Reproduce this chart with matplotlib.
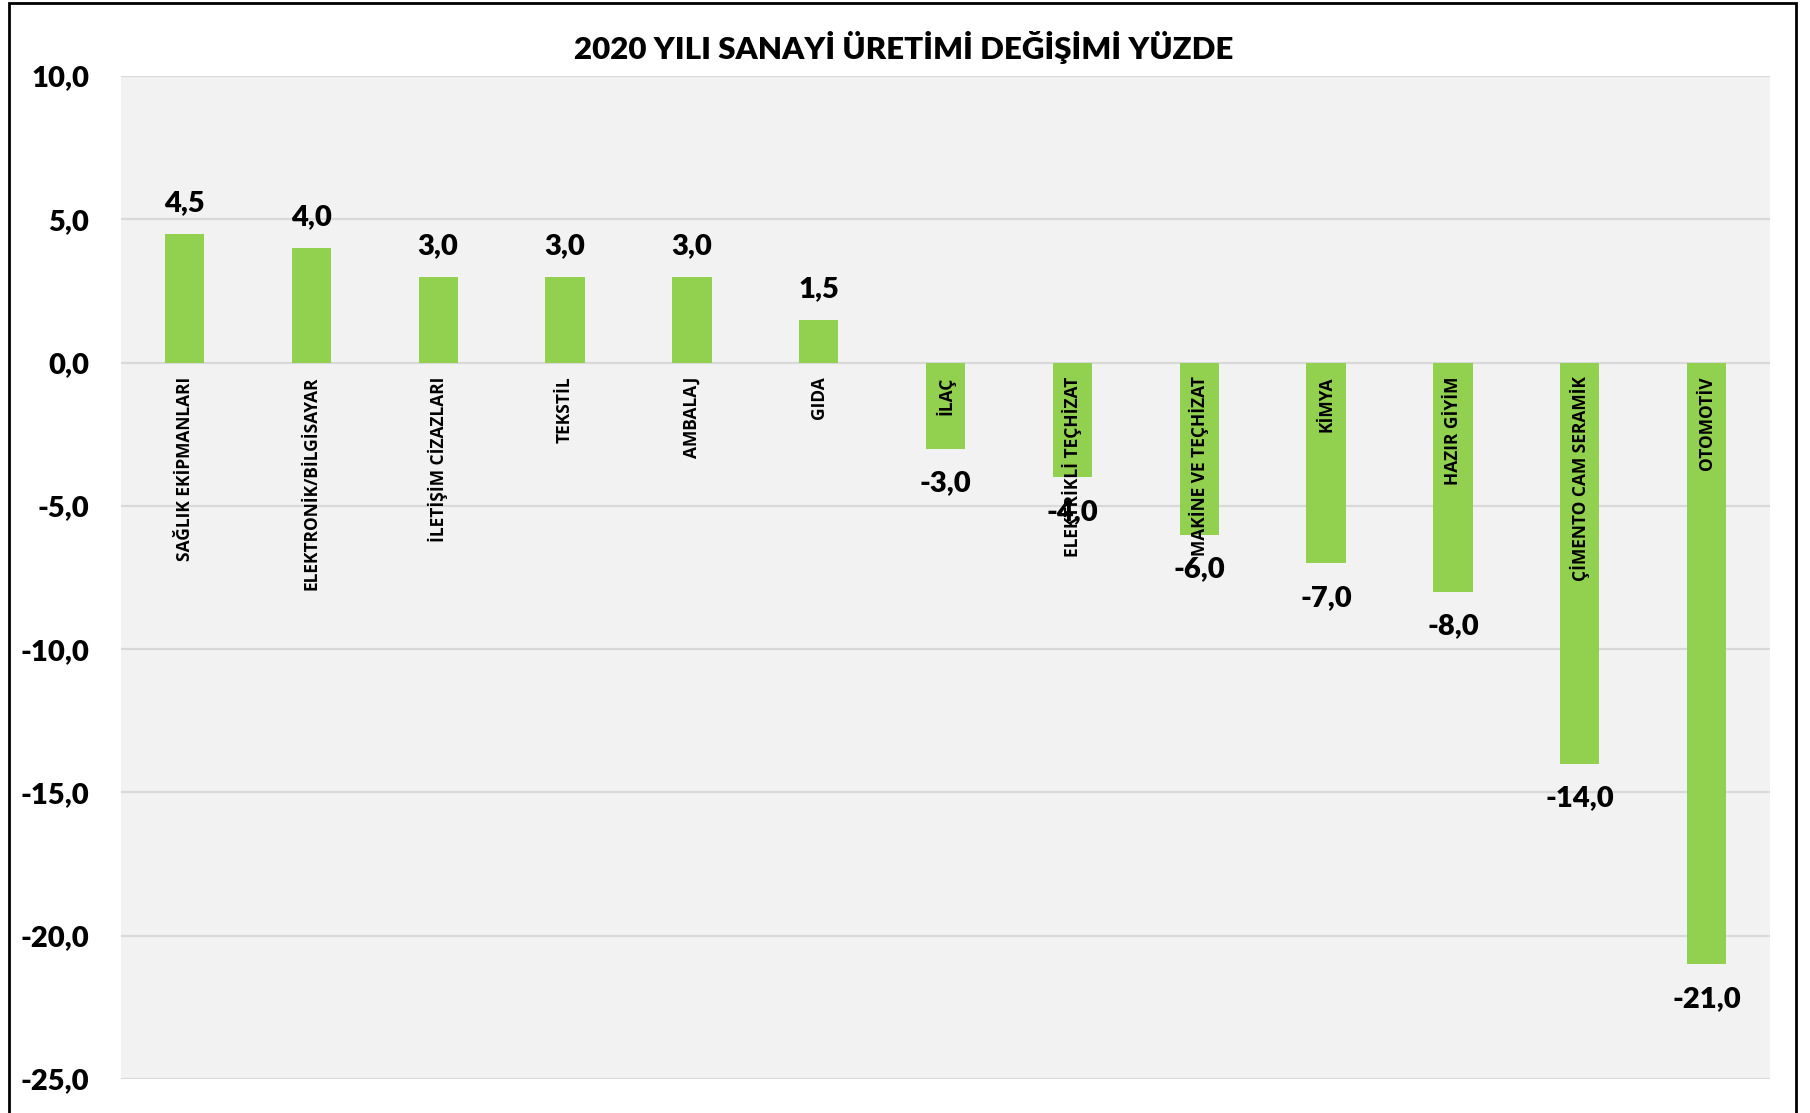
import matplotlib
matplotlib.use("Agg")
from matplotlib import pyplot as plt
from matplotlib.patches import Rectangle

categories = ["SAĞLIK EKİPMANLARI", "ELEKTRONİK/BİLGİSAYAR", "İLETİŞİM CİZAZLARI",
              "TEKSTİL", "AMBALAJ", "GIDA", "İLAÇ", "ELEKTRİKLİ TEÇHİZAT",
              "MAKİNE VE TEÇHİZAT", "KİMYA", "HAZIR GİYİM", "ÇİMENTO CAM SERAMİK",
              "OTOMOTİV"]
values = [4.5, 4.0, 3.0, 3.0, 3.0, 1.5, -3.0, -4.0, -6.0, -7.0, -8.0, -14.0, -21.0]
y_ticks = [10, 5, 0, -5, -10, -15, -20, -25]

num_font = "Lato"
cat_font = "Open Sans"

fig = plt.figure(figsize=(18.1, 11.13), dpi=100)
ax = fig.add_axes([0.0669, 0.0305, 0.9110, 0.9012])
ax.set_facecolor("#f2f2f2")

x = list(range(len(categories)))
ax.bar(x, values, width=0.31, color="#92d050", zorder=3)

ax.set_xlim(-0.5, len(categories) - 0.5)
ax.set_ylim(-25, 10)
ax.set_yticks(y_ticks)
ax.set_yticklabels([f"{v:.1f}".replace(".", ",") for v in y_ticks],
                   fontfamily=num_font, fontweight="heavy", fontsize=21)
ax.tick_params(axis="y", length=0, pad=23)
ax.set_xticks([])
ax.grid(axis="y", color="#d9d9d9", linewidth=1.6, zorder=1)
for s in ax.spines.values():
    s.set_visible(False)

# category names, rotated, just under the zero line
for xi, name in zip(x, categories):
    ax.annotate(name, (xi, 0), xytext=(0, -10), textcoords="offset points",
                rotation=90, ha="center", va="top", fontsize=12.5,
                fontfamily=cat_font, fontweight="bold", zorder=5)

# value labels
for xi, v in zip(x, values):
    off = 22 if v >= 0 else -25
    ax.annotate(f"{v:.1f}".replace(".", ","), (xi, v), xytext=(0, off),
                textcoords="offset points", ha="center", va="center",
                fontsize=21, fontfamily=num_font, fontweight="heavy", zorder=5)

fig.text(0.499, 0.957, "2020 YILI SANAYİ ÜRETİMİ DEĞİŞİMİ YÜZDE", ha="center",
         va="center", fontsize=22.5, fontfamily=num_font, fontweight="heavy")

# outer chart border
fig.patches.append(Rectangle((0.005, -0.02), 0.987, 1.017, transform=fig.transFigure,
                             fill=False, edgecolor="black", linewidth=2, clip_on=False))

fig.savefig("out.png", dpi=100)
